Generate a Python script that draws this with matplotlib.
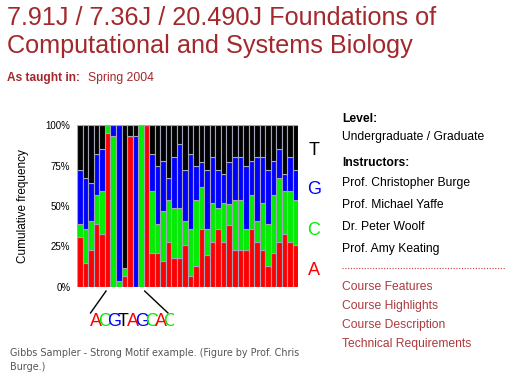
import matplotlib
matplotlib.use("Agg")
import matplotlib.pyplot as plt
from matplotlib.transforms import Bbox

# Per-position base frequencies (%)
pos = list(range(1, 41))
freq_A = [31, 15, 23, 39, 33, 95, 0, 0, 7, 93, 0, 0, 100, 21, 21, 16, 28, 18, 18, 26,
          7, 13, 36, 20, 28, 36, 28, 38, 23, 23, 23, 36, 28, 23, 13, 21, 28, 33, 28, 26]
freq_C = [8, 21, 18, 18, 26, 5, 93, 4, 5, 0, 0, 100, 0, 38, 18, 31, 26, 31, 31, 15,
          29, 41, 26, 16, 24, 13, 24, 13, 31, 31, 13, 21, 13, 29, 26, 36, 39, 26, 31, 28]
freq_G = [33, 31, 23, 25, 26, 0, 7, 96, 0, 0, 93, 0, 0, 23, 36, 31, 13, 31, 39, 31,
          46, 21, 15, 36, 28, 23, 18, 26, 26, 26, 39, 21, 39, 28, 33, 21, 18, 11, 21, 18]
freq_T = [28, 33, 36, 18, 15, 0, 0, 0, 88, 7, 7, 0, 0, 18, 25, 22, 33, 20, 12, 28,
          18, 25, 23, 28, 20, 28, 30, 23, 20, 20, 25, 22, 20, 20, 28, 22, 15, 30, 20, 28]

bases = ["A", "C", "G", "T"]
base_colors = {"A": "#ff0000", "C": "#00ee00", "G": "#0000ff", "T": "#000000"}
yticks = [0, 25, 50, 75, 100]
ytick_labels = ["0%", "25%", "50%", "75%", "100%"]

motif = "ACGTAGCAC"
motif_start, motif_end = 6, 13

W, H = 506, 378
fig = plt.figure(figsize=(W / 100, H / 100), dpi=100)
fig.patch.set_facecolor("white")

red = "#a3282c"
link = "#ad3a3e"
sans = "Liberation Sans"


def ftext(x, y, s, **kw):
    # place text using pixel coordinates of the page (top-left origin)
    kw.setdefault("family", sans)
    kw.setdefault("va", "baseline")
    fig.text(x / W, 1 - y / H, s, **kw)


# Page header
ftext(7, 25, "7.91J / 7.36J / 20.490J Foundations of", fontsize=18.2, color=red)
ftext(7, 53.5, "Computational and Systems Biology", fontsize=18.2, color=red)
ftext(7, 81.5, "As taught in:", fontsize=8.6, color=red, weight="bold")
ftext(88, 81.5, "Spring 2004", fontsize=8.7, color=red)

# Chart
ax = fig.add_axes([77.3 / W, 1 - 287 / H, 221 / W, 162 / H])
bottom = [0] * len(pos)
for b, vals in zip(bases, [freq_A, freq_C, freq_G, freq_T]):
    ax.bar(pos, vals, bottom=bottom, width=1.0, color=base_colors[b],
           edgecolor="#a4a4b8", linewidth=0.8)
    bottom = [u + v for u, v in zip(bottom, vals)]

ax.set_xlim(0.5, len(pos) + 0.5)
ax.set_ylim(0, 100)
ax.set_xticks([])
ax.set_yticks(yticks)
ax.set_yticklabels(ytick_labels, fontsize=7, family=sans)
ax.tick_params(axis="y", length=0, pad=5)
for sp in ax.spines.values():
    sp.set_visible(False)
ax.set_ylabel("Cumulative frequency", fontsize=8.5, family=sans, labelpad=12)

# base legend letters on the right
for b, yv in zip(["T", "G", "C", "A"], [84, 60, 35, 10]):
    ax.text(len(pos) + 3.3, yv, b, color=base_colors[b], fontsize=13,
            family=sans, ha="center", va="center", clip_on=False)

# lines from motif to logo
ax.plot([motif_start - 0.3, motif_start - 3.1], [-2.5, -16], color="black",
        lw=1.0, clip_on=False)
ax.plot([motif_end - 0.3, motif_end + 3.9], [-2.5, -16], color="black",
        lw=1.0, clip_on=False)

# motif logo letters
clip = Bbox.from_extents(86 / W * fig.bbox.width, 0, 174 / W * fig.bbox.width,
                         fig.bbox.height)
for i, ch in enumerate(motif):
    t = ax.text(3.8 + i * 1.68, -21, ch, color=base_colors[ch], fontsize=13,
                family=sans, ha="center", va="center", clip_on=True)
    t.set_clip_box(clip)

# caption
ftext(10, 356, "Gibbs Sampler - Strong Motif example. (Figure by Prof. Chris",
      fontsize=6.9, color="#555555", family="DejaVu Sans")
ftext(10, 370, "Burge.)", fontsize=6.9, color="#555555", family="DejaVu Sans")

# Right panel
ftext(342, 121.7, "Level:", fontsize=8.7, weight="bold", color="black")
ftext(342, 140, "Undergraduate / Graduate", fontsize=8.7, color="black")
ftext(342, 166, "Instructors:", fontsize=8.7, weight="bold", color="black")
people = ["Prof. Christopher Burge", "Prof. Michael Yaffe", "Dr. Peter Woolf",
          "Prof. Amy Keating"]
for s, y in zip(people, [186, 208.3, 230, 252.3]):
    ftext(342, y, s, fontsize=8.7, color="black")

fig.add_artist(plt.Line2D([342 / W, 505 / W], [1 - 268.3 / H, 1 - 268.3 / H],
                          color="#c0393e", lw=0.8, ls=(0, (1, 1.5))))

links = ["Course Features", "Course Highlights", "Course Description",
         "Technical Requirements"]
for s, y in zip(links, [290, 309, 327.7, 346.7]):
    ftext(342, y, s, fontsize=8.7, color=link)

fig.savefig("out.png", dpi=100, facecolor="white")
